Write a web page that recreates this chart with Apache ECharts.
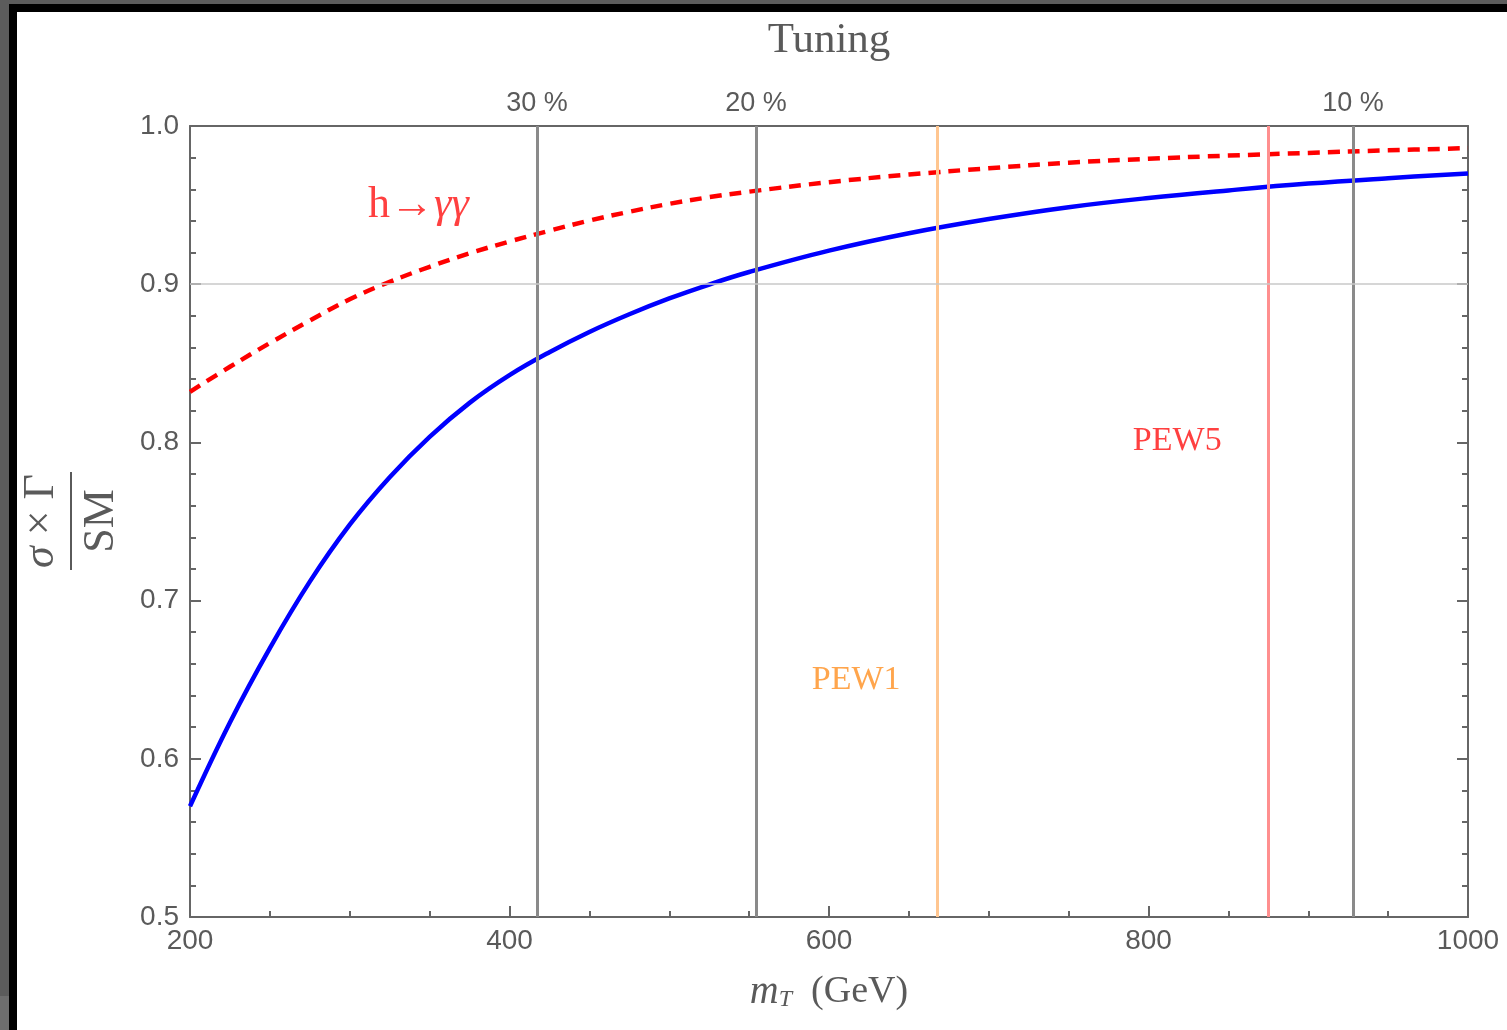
<!DOCTYPE html>
<html>
<head>
<meta charset="utf-8">
<title>sigma x Gamma / SM vs mT</title>
<script src="https://cdn.jsdelivr.net/npm/echarts@6/dist/echarts.min.js"></script>
<style>
    body { margin: 0; background: #fff; }
    #chart { position: absolute; left: 0; top: 0; width: 1507px; height: 1030px; }
    .edge { position: absolute; z-index: 5; }
</style>
</head>
<body>
<div id="chart"></div>
<div class="edge" style="left:0;top:0;width:9px;height:996px;background:#5c5c5c"></div>
<div class="edge" style="left:0;top:996px;width:9px;height:34px;background:#6e6e6e"></div>
<div class="edge" style="left:0;top:0;width:1507px;height:4px;background:#5c5c5c"></div>
<div class="edge" style="left:9px;top:4px;width:1498px;height:8px;background:#000"></div>
<div class="edge" style="left:9px;top:4px;width:8px;height:1026px;background:#000"></div>
<script>
// top-level data
var mT = [200, 225, 250, 275, 300, 325, 350, 375, 400, 425, 450, 475, 500, 525, 550, 600, 650, 700, 750, 800, 850, 900, 950, 1000];
var ratioAll = [0.570, 0.623, 0.670, 0.712, 0.748, 0.778, 0.8035, 0.825, 0.8425, 0.857, 0.8698, 0.881, 0.891, 0.8998, 0.9077, 0.9212, 0.9322, 0.9412, 0.9487, 0.9545, 0.9593, 0.9636, 0.967, 0.970];
var ratioGammaGamma = [0.832, 0.8478, 0.8628, 0.877, 0.8905, 0.9015, 0.911, 0.9195, 0.927, 0.9338, 0.9402, 0.9458, 0.9508, 0.955, 0.9585, 0.9645, 0.9693, 0.9733, 0.9768, 0.9793, 0.9813, 0.983, 0.9846, 0.986];
var tuningX = [417.2, 554.3, 928];
var tuningLabels = ['30 %', '20 %', '10 %'];
var pewX = [667.6, 874.8];
var pewNames = ['PEW1', 'PEW5'];
var pewLabelPos = [[617, 0.650], [818, 0.801]];
var curveLabelPos = [343, 0.950];

var sans = 'Liberation Sans';
var serif = 'Liberation Serif';
var labelGray = '#5a5a5a';
var frameGray = '#666';
var pewColors = ['#ffc690', '#ff8f8f'];
var pewTextColors = ['#ff8f1f', '#ff1010'];

var chartDom = document.getElementById('chart');
var myChart = echarts.init(chartDom);
var option;

function pairs(xs, ys) {
    return xs.map(function (x, i) { return [x, ys[i]]; });
}

var vLines = [];
tuningX.forEach(function (x, i) {
    vLines.push({
        xAxis: x,
        lineStyle: { color: '#8a8a8a', width: 3, type: 'solid' },
        label: { show: true, position: 'end', formatter: tuningLabels[i], distance: 9,
                 color: labelGray, fontFamily: sans, fontSize: 27 }
    });
});
pewX.forEach(function (x, i) {
    vLines.push({ xAxis: x, lineStyle: { color: pewColors[i], width: 3, type: 'solid' }, label: { show: false } });
});
vLines.push({ yAxis: 0.9, lineStyle: { color: '#c8c8c8', width: 1.5, type: 'solid' }, label: { show: false } });

var textMarks = pewNames.map(function (n, i) {
    return {
        value: pewLabelPos[i],
        label: { formatter: n, color: pewTextColors[i], fontFamily: serif, fontSize: 34 }
    };
});
textMarks.push({
    value: curveLabelPos,
    label: {
        formatter: '{a|h→}{b|γγ}',
        rich: {
            a: { color: '#ff1010', fontFamily: serif, fontSize: 44 },
            b: { color: '#ff1010', fontFamily: serif, fontSize: 44, fontStyle: 'italic' }
        }
    }
});

var axisCommon = {
    type: 'value',
    axisLine: { show: true, lineStyle: { color: frameGray, width: 2 } },
    splitLine: { show: false }
};

option = {
    animation: false,
    grid: { left: 190, right: 39, top: 126, bottom: 113 },
    xAxis: [
        Object.assign({}, axisCommon, {
            position: 'bottom',
            min: 200, max: 1000, interval: 200,
            axisTick: { show: true, inside: true, length: 11, lineStyle: { color: frameGray, width: 2 } },
            minorTick: { show: true, splitNumber: 4, length: 6, lineStyle: { color: frameGray, width: 2 } },
            axisLabel: { color: labelGray, fontFamily: sans, fontSize: 28, margin: 10,
                         formatter: function (v) { return String(v); } },
            name: '{m|m}{t|T}{g|  (GeV)}',
            nameLocation: 'middle',
            nameGap: 55,
            nameTextStyle: {
                rich: {
                    m: { fontFamily: serif, fontSize: 40, fontStyle: 'italic', color: labelGray },
                    t: { fontFamily: serif, fontSize: 24, fontStyle: 'italic', color: labelGray, verticalAlign: 'bottom', padding: [14, 0, 0, 0] },
                    g: { fontFamily: serif, fontSize: 38, color: labelGray }
                }
            }
        }),
        Object.assign({}, axisCommon, {
            position: 'top',
            min: 200, max: 1000, interval: 200,
            axisTick: { show: false },
            axisLabel: { show: false },
            name: 'Tuning',
            nameLocation: 'middle',
            nameGap: 64,
            nameTextStyle: { fontFamily: serif, fontSize: 43, color: labelGray }
        })
    ],
    yAxis: [
        Object.assign({}, axisCommon, {
            position: 'left',
            min: 0.5, max: 1.0, interval: 0.1,
            axisTick: { show: true, inside: true, length: 11, lineStyle: { color: frameGray, width: 2 } },
            minorTick: { show: true, splitNumber: 5, length: 6, lineStyle: { color: frameGray, width: 2 } },
            axisLabel: { color: labelGray, fontFamily: sans, fontSize: 28, margin: 11,
                         formatter: function (v) { return v.toFixed(1); } }
        }),
        Object.assign({}, axisCommon, {
            position: 'right',
            min: 0.5, max: 1.0, interval: 0.1,
            axisTick: { show: true, inside: true, length: 11, lineStyle: { color: frameGray, width: 2 } },
            minorTick: { show: true, splitNumber: 5, length: 6, lineStyle: { color: frameGray, width: 2 } },
            axisLabel: { show: false }
        })
    ],
    graphic: [{
        type: 'group',
        x: 71, y: 521,
        rotation: Math.PI / 2,
        children: [
            { type: 'line', shape: { x1: -49, y1: 0, x2: 49, y2: 0 }, style: { stroke: labelGray, lineWidth: 2 } },
            { type: 'text', x: 0, y: -8,
              style: { text: '{s|σ} × Γ', align: 'center', verticalAlign: 'bottom', fill: labelGray,
                       font: '44px "Liberation Serif"',
                       rich: { s: { fontFamily: serif, fontSize: 44, fontStyle: 'italic', fill: labelGray } } } },
            { type: 'text', x: 0, y: 8,
              style: { text: 'SM', align: 'center', verticalAlign: 'top', fill: labelGray, font: '44px "Liberation Serif"' } }
        ]
    }],
    series: [
        {
            name: 'lines',
            type: 'line',
            data: [],
            z: 1,
            silent: true,
            markLine: { symbol: 'none', silent: true, animation: false, data: vLines }
        },
        {
            name: 'all',
            type: 'line',
            data: pairs(mT, ratioAll),
            smooth: 0.4,
            showSymbol: false,
            z: 3,
            lineStyle: { color: '#0000ff', width: 4.5 }
        },
        {
            name: 'h->gammagamma',
            type: 'line',
            data: pairs(mT, ratioGammaGamma),
            smooth: 0.4,
            showSymbol: false,
            z: 3,
            lineStyle: { color: '#ff0000', width: 4.5, type: [12, 8] }
        },
        {
            name: 'labels',
            type: 'scatter',
            symbolSize: 0,
            silent: true,
            label: { show: true, position: 'inside' },
            data: textMarks
        }
    ]
};

option && myChart.setOption(option);
</script>
</body>
</html>
